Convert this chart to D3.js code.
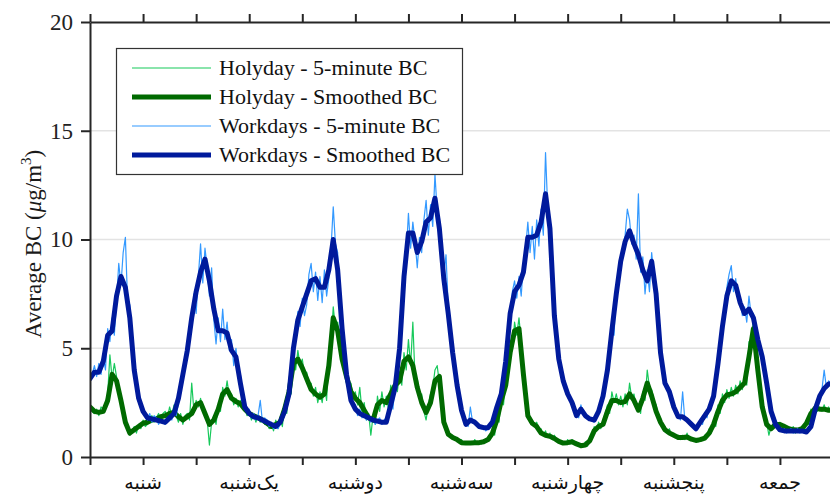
<!DOCTYPE html>
<html>
<head>
<meta charset="utf-8">
<script src="https://cdn.jsdelivr.net/npm/d3@7"></script>
<style>
  body { margin: 0; background: #fff; }
  svg { display: block; }
</style>
</head>
<body>
<script>
// day names (centred on each day), y ticks
const days = ["شنبه", "یک‌شنبه", "دوشنبه", "سه‌شنبه", "چهارشنبه", "پنجشنبه", "جمعه"]
const yTicks = [0, 5, 10, 15, 20]
const hourTicks = d3.range(0, 169, 12)

// series: smoothed values are hourly, 5-minute values are shown every half hour
const smoothStep = 1
const rawStep = 0.5

const holySmooth = [
  2.3, 2.1, 2.05, 2.1, 2.6, 3.8, 3.5, 2.6, 1.6, 1.1, 1.25, 1.4, 1.55, 1.6, 1.7, 1.75, 1.85, 1.9, 2.0, 2.05, 1.85, 1.7, 1.85, 2.0,
  2.4, 2.5, 2.0, 1.5, 1.7, 2.2, 2.9, 3.1, 2.7, 2.55, 2.45, 2.2, 2.0, 1.9, 1.8, 1.7, 1.55, 1.4, 1.5, 1.6, 2.2, 3.0, 4.3, 4.5,
  4.1, 3.6, 3.1, 2.9, 2.75, 2.9, 4.2, 6.4, 5.8, 4.5, 3.7, 3.0, 2.7, 2.5, 2.15, 1.8, 1.7, 2.4, 2.6, 2.5, 2.9, 3.3, 3.5, 4.4,
  4.6, 4.2, 3.2, 2.5, 2.05, 2.5, 3.5, 3.7, 1.6, 1.05, 0.9, 0.8, 0.66, 0.64, 0.64, 0.65, 0.66, 0.7, 0.8, 1.1, 1.7, 2.6, 3.3, 4.8,
  5.8, 5.9, 3.8, 1.9, 1.55, 1.4, 1.1, 1.0, 0.95, 0.85, 0.72, 0.64, 0.66, 0.7, 0.6, 0.52, 0.55, 0.75, 1.2, 1.4, 1.5, 2.1, 2.6, 2.6,
  2.5, 2.55, 2.9, 2.6, 2.15, 2.7, 3.4, 2.8, 2.1, 1.6, 1.25, 1.1, 1.0, 0.9, 0.9, 0.92, 0.82, 0.76, 0.8, 0.87, 1.1, 1.5, 2.1, 2.6,
  2.85, 2.9, 3.0, 3.2, 3.4, 4.6, 5.9, 4.0, 2.3, 1.5, 1.3, 1.5, 1.5, 1.4, 1.3, 1.25, 1.24, 1.3, 1.55, 2.0, 2.25, 2.2, 2.2, 2.15,
  2.15
]

const holyRaw = [
  2.4, 2.1, 2.0, 2.2, 1.9, 2.3, 2.2, 2.5, 2.9, 4.7, 3.6, 4.3, 3.7, 3.1, 2.8, 2.2, 1.7, 1.3, 1.0, 1.2, 1.4, 1.1, 1.5, 1.3,
  1.7, 1.4, 1.5, 1.8, 1.9, 1.6, 1.8, 2.0, 1.7, 2.0, 2.1, 1.8, 2.3, 1.9, 2.4, 1.9, 1.6, 2.0, 1.5, 1.9, 2.0, 1.7, 3.4, 2.1,
  2.6, 2.3, 2.7, 2.2, 2.1, 1.7, 0.55, 1.6, 1.9, 1.5, 2.4, 2.1, 3.2, 2.8, 3.5, 2.8, 2.9, 2.4, 2.7, 2.3, 2.6, 2.2, 2.4, 1.9,
  2.1, 1.7, 2.0, 1.6, 1.9, 1.6, 1.8, 1.5, 1.7, 1.3, 1.5, 1.2, 1.7, 1.3, 1.8, 1.4, 2.4, 2.0, 3.5, 2.9, 4.8, 4.0, 4.9, 4.2,
  4.5, 3.8, 3.9, 3.3, 3.4, 2.8, 3.2, 2.5, 3.0, 2.5, 3.3, 2.6, 4.6, 5.3, 6.9, 5.9, 6.2, 5.4, 4.8, 4.1, 4.0, 3.3, 3.4, 2.7,
  3.0, 2.4, 3.2, 2.1, 2.5, 1.7, 2.0, 1.0, 1.9, 1.5, 2.8, 2.1, 3.0, 2.3, 2.8, 2.2, 3.3, 2.6, 3.7, 3.0, 3.9, 3.3, 4.8, 4.0,
  5.4, 4.2, 6.2, 3.6, 3.6, 2.8, 2.9, 2.1, 1.7, 2.4, 2.9, 3.2, 4.0, 4.2, 3.4, 2.6, 1.9, 1.3, 1.2, 0.9, 1.0, 0.8, 0.9, 0.7,
  0.8, 0.6, 0.7, 0.6, 0.7, 0.6, 0.8, 0.6, 0.7, 0.6, 0.8, 0.7, 0.9, 0.8, 1.3, 1.0, 1.9, 1.6, 2.9, 2.4, 3.6, 4.5, 5.2, 4.9,
  6.2, 5.6, 6.4, 5.3, 4.2, 3.0, 2.1, 1.7, 1.7, 1.4, 1.6, 1.3, 1.3, 1.0, 1.2, 0.9, 1.1, 0.8, 1.0, 0.8, 0.8, 0.7, 0.7, 0.6,
  0.8, 0.6, 0.8, 0.6, 0.7, 0.5, 0.6, 0.5, 0.7, 0.5, 0.9, 1.0, 1.4, 1.2, 1.6, 1.3, 1.7, 2.0, 2.4, 2.0, 3.0, 2.5, 2.9, 2.4,
  2.8, 2.3, 2.9, 2.4, 3.4, 2.7, 2.9, 2.3, 2.4, 2.0, 3.0, 2.6, 4.0, 3.2, 3.1, 2.6, 2.4, 1.9, 1.8, 1.4, 1.4, 1.1, 1.3, 1.0,
  1.1, 0.9, 1.0, 0.8, 1.0, 0.8, 1.1, 0.8, 0.9, 0.8, 0.8, 0.7, 0.9, 0.8, 1.0, 0.9, 1.3, 1.1, 1.7, 1.4, 2.4, 2.0, 2.9, 2.5,
  3.1, 2.7, 3.2, 2.8, 3.3, 2.9, 3.5, 3.1, 3.7, 3.3, 5.3, 4.8, 6.5, 5.4, 4.2, 3.3, 2.5, 1.9, 1.6, 1.0, 1.4, 1.5, 1.7, 1.4,
  1.6, 1.4, 1.5, 1.3, 1.4, 1.2, 1.4, 1.1, 1.3, 1.2, 1.4, 1.2, 1.7, 1.5, 2.2, 1.9, 2.4, 2.1, 2.3, 2.1, 2.4, 2.1, 2.3, 2.1,
  2.2
]

const workSmooth = [
  3.6, 3.9, 3.9, 4.4, 5.6, 5.8, 7.4, 8.3, 7.8, 6.4, 4.0, 2.7, 2.1, 1.8, 1.75, 1.7, 1.65, 1.6, 1.8, 2.0, 2.7, 3.8, 4.9, 6.4,
  7.6, 8.5, 9.1, 8.1, 6.8, 5.8, 5.8, 5.7, 4.9, 4.6, 3.4, 2.3, 2.0, 1.85, 1.8, 1.7, 1.6, 1.5, 1.4, 1.6, 2.1, 2.9, 5.0, 6.3,
  6.9, 7.5, 8.1, 8.2, 7.8, 7.8, 8.6, 10.0, 8.6, 5.9, 3.8, 2.6, 2.2, 2.0, 1.9, 1.8, 1.7, 1.65, 1.6, 1.6, 2.4, 3.2, 5.0, 8.3,
  10.3, 10.3, 9.4, 9.9, 10.8, 11.0, 11.9, 10.5, 8.2, 6.6, 4.8, 3.3, 2.15, 1.5, 1.7, 1.6, 1.4, 1.35, 1.35, 1.6, 2.3, 2.9, 4.4, 6.6,
  7.6, 7.9, 8.5, 10.1, 10.1, 10.2, 10.8, 12.1, 10.5, 6.5, 4.5, 3.5, 2.9, 2.5, 1.9, 2.2, 1.9, 1.75, 1.7, 2.1, 2.8, 4.0, 5.8, 7.5,
  9.0, 9.9, 10.4, 9.8, 9.3, 8.6, 8.1, 9.0, 7.5, 4.8, 3.4, 3.0, 2.3, 1.85, 1.85, 1.7, 1.5, 1.3, 1.6, 1.9, 2.2, 2.8, 4.3, 6.0,
  7.4, 8.1, 7.9, 7.1, 6.6, 6.8, 6.4, 5.4, 4.6, 3.4, 2.1, 1.5, 1.25, 1.2, 1.2, 1.2, 1.2, 1.2, 1.15, 1.4, 2.2, 2.8, 3.15, 3.35,
  3.4
]

const workRaw = [
  3.5, 3.8, 4.2, 3.7, 4.3, 3.8, 4.6, 4.0, 5.9, 5.3, 6.4, 5.6, 7.2, 8.9, 7.9, 9.4, 10.1, 7.1, 7.0, 5.6, 4.5, 3.2, 3.0, 2.4,
  2.3, 1.9, 1.7, 2.0, 1.6, 1.9, 1.8, 1.5, 1.7, 1.6, 1.5, 1.7, 1.9, 1.7, 2.2, 1.9, 2.5, 3.1, 3.6, 4.3, 4.6, 5.5, 6.0, 7.5,
  6.6, 8.3, 9.8, 8.0, 9.6, 8.7, 7.4, 8.7, 6.3, 5.2, 6.4, 5.3, 6.8, 5.4, 6.2, 4.9, 5.4, 4.2, 5.0, 3.9, 3.8, 2.9, 2.5, 2.1,
  2.2, 1.8, 2.0, 1.7, 1.9, 2.6, 1.6, 1.8, 1.7, 1.4, 1.6, 1.3, 1.5, 1.3, 1.5, 1.8, 2.0, 2.4, 2.7, 3.5, 4.7, 5.6, 6.7, 6.0,
  7.3, 6.5, 7.0, 8.4, 8.9, 7.6, 8.5, 7.2, 8.3, 7.1, 8.6, 7.4, 8.2, 9.6, 11.5, 9.8, 9.4, 7.2, 6.4, 5.0, 4.1, 3.3, 2.7, 2.5,
  2.4, 1.9, 2.2, 1.8, 2.0, 1.7, 1.9, 1.6, 1.8, 1.5, 1.7, 1.8, 1.5, 1.7, 1.8, 2.0, 2.6, 2.2, 3.4, 3.9, 5.4, 6.8, 8.0, 9.3,
  11.2, 9.6, 10.8, 9.9, 8.7, 10.1, 9.4, 10.9, 11.8, 10.2, 11.6, 10.6, 13.0, 11.3, 11.0, 9.5, 8.4, 9.3, 6.9, 5.9, 5.0, 4.1, 3.5, 2.8,
  2.3, 1.9, 1.6, 1.4, 2.3, 1.6, 1.7, 1.5, 1.4, 1.3, 1.4, 1.2, 1.3, 1.5, 1.7, 1.9, 2.2, 2.6, 3.0, 3.6, 4.6, 5.3, 6.3, 7.6,
  8.1, 7.3, 8.3, 7.4, 8.9, 9.6, 10.8, 9.4, 10.6, 9.1, 10.9, 9.7, 11.4, 10.2, 14.0, 11.4, 10.0, 9.6, 6.9, 5.4, 4.8, 4.2, 3.7, 3.2,
  3.0, 2.7, 2.6, 2.3, 2.0, 1.8, 2.4, 2.0, 2.0, 1.8, 1.8, 1.7, 1.6, 1.9, 2.2, 2.5, 2.9, 3.4, 4.2, 4.9, 6.2, 5.6, 7.9, 8.4,
  9.2, 9.7, 10.2, 11.4, 10.9, 9.8, 10.2, 9.1, 12.1, 8.5, 9.2, 7.5, 8.6, 7.6, 9.4, 8.3, 7.9, 6.8, 5.2, 4.1, 3.6, 3.2, 3.1, 2.7,
  2.4, 2.1, 1.9, 1.7, 3.0, 1.7, 1.8, 1.6, 1.6, 1.4, 1.3, 1.4, 1.7, 1.5, 2.0, 1.8, 2.3, 2.4, 3.0, 3.6, 4.6, 5.3, 6.3, 6.9,
  7.8, 8.4, 8.8, 7.6, 8.2, 7.2, 7.3, 6.5, 6.9, 6.2, 7.4, 6.5, 6.6, 5.7, 5.6, 4.9, 4.8, 4.0, 3.6, 2.8, 2.3, 1.8, 1.6, 1.4,
  1.3, 1.2, 1.3, 1.1, 1.2, 1.3, 1.1, 1.2, 1.3, 1.1, 1.2, 1.1, 1.2, 1.3, 1.5, 1.9, 2.3, 2.6, 2.9, 3.1, 4.0, 3.2, 3.5, 3.3,
  3.4
]

const series = [
  { name: "Holyday - 5-minute BC", values: holyRaw, step: rawStep, color: "#17c95b", width: 1.2 },
  { name: "Holyday - Smoothed BC", values: holySmooth, step: smoothStep, color: "#006a00", width: 5 },
  { name: "Workdays - 5-minute BC", values: workRaw, step: rawStep, color: "#3399ff", width: 1.2 },
  { name: "Workdays - Smoothed BC", values: workSmooth, step: smoothStep, color: "#001a9c", width: 5 }
]

const width = 830, height = 494
const margin = { top: 22, left: 90, bottom: 37 }
const plotRight = 833
const serif = "'Liberation Serif', 'Times New Roman', serif"

const svg = d3.select("body").append("svg")
  .attr("width", width)
  .attr("height", height)
  .style("font-family", serif)

const x = d3.scaleLinear().domain([0, 168]).range([margin.left, plotRight])
const y = d3.scaleLinear().domain([0, 20]).range([height - margin.bottom, margin.top])

svg.append("clipPath").attr("id", "plot")
  .append("rect")
  .attr("x", margin.left).attr("y", margin.top)
  .attr("width", plotRight - margin.left).attr("height", y(0) - margin.top)

// horizontal grid
svg.append("g")
  .selectAll("line")
  .data(yTicks.filter(d => d > 0 && d < 20))
  .join("line")
  .attr("x1", margin.left).attr("x2", plotRight)
  .attr("y1", d => y(d)).attr("y2", d => y(d))
  .attr("stroke", "#e3e3e3")
  .attr("stroke-width", 1.5)

// lines
const lines = svg.append("g").attr("clip-path", "url(#plot)")
series.forEach(s => {
  lines.append("path")
    .attr("d", d3.line().x((d, i) => x(i * s.step)).y(d => y(d))(s.values))
    .attr("fill", "none")
    .attr("stroke", s.color)
    .attr("stroke-width", s.width)
    .attr("stroke-linejoin", "round")
    .attr("stroke-linecap", "round")
})

// axes
const axisColor = "#262626"
function styleAxis(g) {
  g.attr("font-family", null).attr("font-size", null)
  g.select(".domain").attr("stroke", axisColor).attr("stroke-width", 2)
  g.selectAll(".tick line").attr("stroke", axisColor).attr("stroke-width", 2)
  g.selectAll(".tick text").attr("fill", "#222")
}

svg.append("g")
  .attr("transform", "translate(" + margin.left + ",0)")
  .call(d3.axisLeft(y).tickValues(yTicks).tickSize(9).tickSizeOuter(0).tickPadding(8))
  .call(styleAxis)
  .call(g => g.selectAll(".tick text").style("font-size", "23px").style("font-family", serif))

svg.append("g")
  .attr("transform", "translate(0," + y(0) + ")")
  .call(d3.axisBottom(x).tickValues(hourTicks).tickSize(8).tickSizeOuter(0).tickFormat(""))
  .call(styleAxis)

svg.append("g")
  .attr("transform", "translate(0," + y(20) + ")")
  .call(d3.axisTop(x).tickValues(hourTicks).tickSize(8).tickSizeOuter(0).tickFormat(""))
  .call(styleAxis)

// day names
svg.append("g")
  .selectAll("text")
  .data(days)
  .join("text")
  .attr("x", (d, i) => x(12 + i * 24))
  .attr("y", 489)
  .attr("text-anchor", "middle")
  .attr("direction", "rtl")
  .style("font-size", "19px")
  .style("font-family", "'DejaVu Sans', sans-serif")
  .attr("fill", "#111")
  .text(d => d)

// y label
const yl = svg.append("text")
  .attr("text-anchor", "middle")
  .attr("transform", "translate(41,244)rotate(-90)")
  .attr("fill", "#1a1a1a")
  .style("font-family", serif)
  .style("font-size", "23px")
yl.append("tspan").text("Average BC (")
yl.append("tspan").style("font-style", "italic").text("μ")
yl.append("tspan").text("g/m")
yl.append("tspan").attr("dy", -10).style("font-size", "15px").text("3")
yl.append("tspan").attr("dy", 10).text(")")

// legend
const legend = svg.append("g")
legend.append("rect")
  .attr("x", 116.5).attr("y", 48.5)
  .attr("width", 346).attr("height", 126)
  .attr("fill", "#fff")
  .attr("stroke", "#333")
  .attr("stroke-width", 1.2)

series.forEach((s, i) => {
  const ly = 68 + i * 29
  legend.append("line")
    .attr("x1", 132).attr("x2", 211)
    .attr("y1", ly).attr("y2", ly)
    .attr("stroke", s.color)
    .attr("stroke-width", s.width)
  legend.append("text")
    .attr("x", 219).attr("y", ly + 7)
    .attr("fill", "#111")
    .style("font-family", serif)
    .style("font-size", "22px")
    .text(s.name)
})
</script>
</body>
</html>
